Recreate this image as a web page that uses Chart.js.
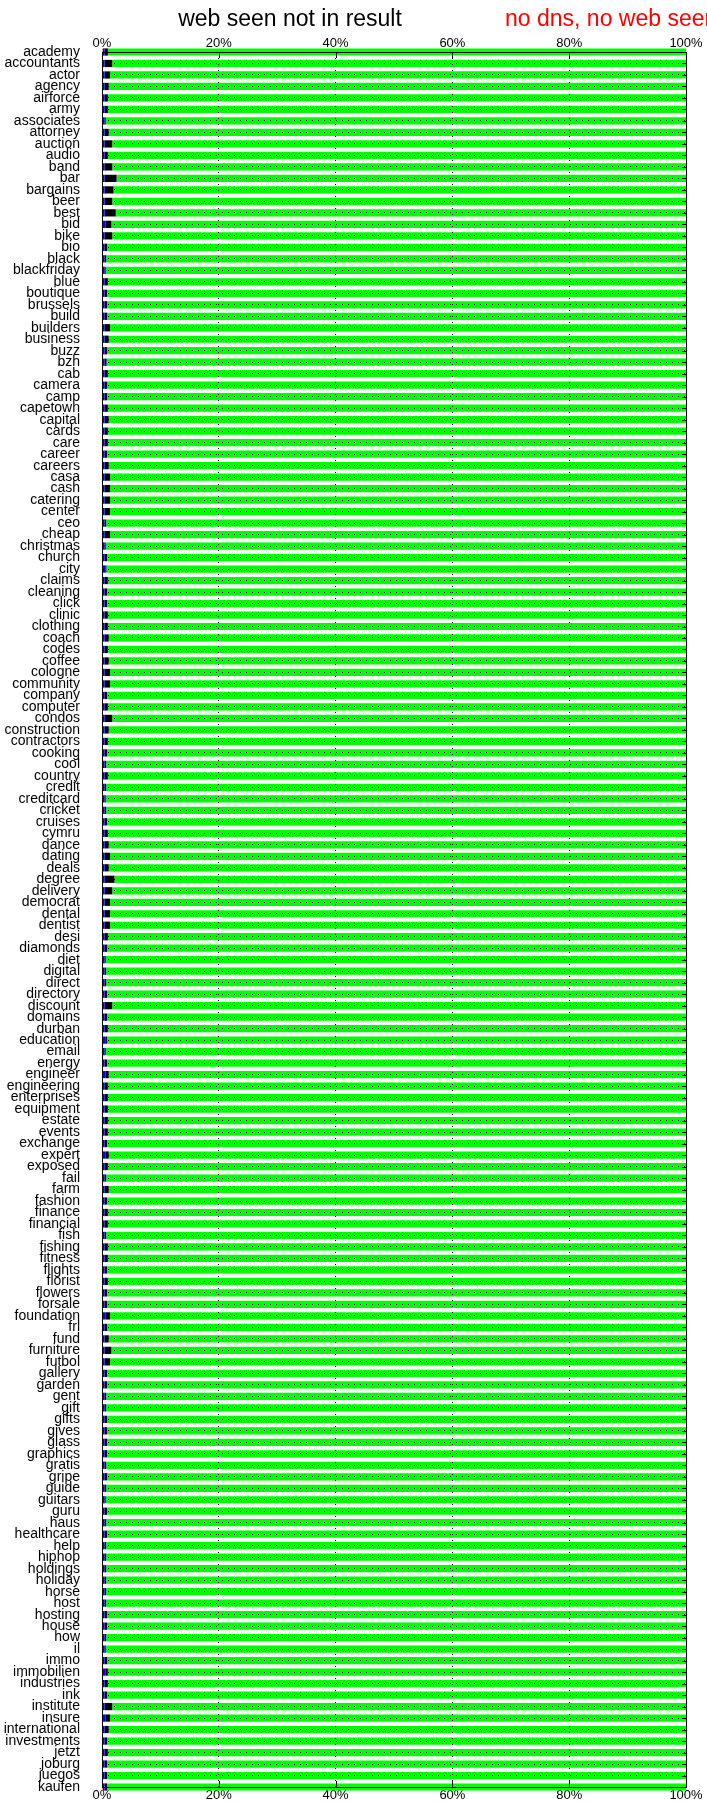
<!DOCTYPE html>
<html>
<head>
<meta charset="utf-8">
<script src="https://cdn.jsdelivr.net/npm/chart.js@4"></script>
<style>
  body { margin: 0; background: #fff; }
</style>
</head>
<body>
<canvas id="myChart" width="707" height="1816"></canvas>
<script>
var categories = [
  'academy','accountants','actor','agency','airforce','army','associates','attorney','auction','audio',
  'band','bar','bargains','beer','best','bid','bike','bio','black','blackfriday',
  'blue','boutique','brussels','build','builders','business','buzz','bzh','cab','camera',
  'camp','capetown','capital','cards','care','career','careers','casa','cash','catering',
  'center','ceo','cheap','christmas','church','city','claims','cleaning','click','clinic',
  'clothing','coach','codes','coffee','cologne','community','company','computer','condos','construction',
  'contractors','cooking','cool','country','credit','creditcard','cricket','cruises','cymru','dance',
  'dating','deals','degree','delivery','democrat','dental','dentist','desi','diamonds','diet',
  'digital','direct','directory','discount','domains','durban','education','email','energy','engineer',
  'engineering','enterprises','equipment','estate','events','exchange','expert','exposed','fail','farm',
  'fashion','finance','financial','fish','fishing','fitness','flights','florist','flowers','forsale',
  'foundation','frl','fund','furniture','futbol','gallery','garden','gent','gift','gifts',
  'gives','glass','graphics','gratis','gripe','guide','guitars','guru','haus','healthcare',
  'help','hiphop','holdings','holiday','horse','host','hosting','house','how','il',
  'immo','immobilien','industries','ink','institute','insure','international','investments','jetzt','joburg',
  'juegos','kaufen'
];

// % no dns, no web seen (red)
var noDnsNoWeb = [
  0.15,0.15,0.15,0.15,0.15,0.15,0.15,0.15,0.15,0.15,
  0.15,0.15,0.15,0.15,0.15,0.15,0.15,0.15,0.15,0.15,
  0.15,0.15,0.15,0.15,0.15,0.15,0.15,0.15,0.15,0.15,
  0.15,0.15,0.15,0.15,0.15,0.15,0.15,0.15,0.15,0.15,
  0.15,0.15,0.15,0.15,0.15,0.15,0.15,0.15,0.15,0.15,
  0.15,0.15,0.15,0.15,0.15,0.15,0.15,0.15,0.15,0.15,
  0.15,0.15,0.15,0.15,0.15,0.15,0.15,0.15,0.15,0.15,
  0.15,0.15,0.15,0.15,0.15,0.15,0.15,0.15,0.15,0.15,
  0.15,0.15,0.15,0.15,0.15,0.15,0.15,0.15,0.15,0.15,
  0.15,0.15,0.15,0.15,0.15,0.15,0.15,0.15,0.15,0.15,
  0.15,0.15,0.15,0.15,0.15,0.15,0.15,0.15,0.15,0.15,
  0.15,0.15,0.15,0.15,0.15,0.15,0.15,0.15,0.15,0.15,
  0.15,0.15,0.15,0.15,0.15,0.15,0.15,0.15,0.15,0.15,
  0.15,0.15,0.15,0.15,0.15,0.15,0.15,0.15,0.15,0.15,
  0.15,0.15,0.15,0.15,0.15,0.15,0.15,0.15,0.15,0.15,
  0.15,0.15
];

// blue part
var bluePart = [
  0.3,0.3,0.3,0.3,0.3,0.3,0.3,0.3,0.3,0.3,
  0.3,0.3,0.3,0.3,0.3,0.5,0.3,0.3,0.3,0.3,
  0.3,0.3,0.3,0.3,0.3,0.3,0.3,0.3,0.3,0.3,
  0.3,0.3,0.3,0.3,0.3,0.3,0.3,0.3,0.3,0.3,
  0.3,0.3,0.3,0.3,0.3,0.5,0.3,0.3,0.3,0.3,
  0.3,0.3,0.3,0.3,0.3,0.3,0.3,0.3,0.3,0.3,
  0.3,0.3,0.3,0.3,0.3,0.3,0.3,0.3,0.3,0.3,
  0.3,0.3,0.3,0.3,0.3,0.3,0.3,0.3,0.3,0.3,
  0.3,0.3,0.3,0.3,0.3,0.3,0.5,0.3,0.3,0.5,
  0.3,0.3,0.3,0.3,0.3,0.3,0.5,0.3,0.3,0.3,
  0.3,0.3,0.3,0.3,0.3,0.3,0.3,0.3,0.3,0.3,
  0.5,0.3,0.3,0.3,0.3,0.3,0.3,0.3,0.3,0.3,
  0.3,0.3,0.3,0.3,0.3,0.3,0.3,0.3,0.3,0.3,
  0.3,0.3,0.3,0.3,0.3,0.3,0.3,0.3,0.3,0.3,
  0.3,0.5,0.3,0.3,0.3,0.5,0.3,0.3,0.3,0.3,
  0.3,0.3
];

// % web seen not in result (black)
var webSeenNotInResult = [
  0.55,1.30,0.93,0.70,0.55,0.55,0.18,0.70,1.30,0.55,
  1.30,2.05,1.53,1.30,1.90,0.95,1.30,0.40,0.25,0.18,
  0.55,0.40,0.40,0.40,0.93,0.70,0.40,0.33,0.55,0.40,
  0.40,0.55,0.70,0.55,0.55,0.40,0.70,0.93,0.93,0.93,
  0.93,0.25,0.93,0.18,0.40,0.10,0.55,0.40,0.40,0.55,
  0.55,0.70,0.55,0.70,0.93,0.93,0.40,0.55,1.30,0.70,
  0.55,0.40,0.25,0.55,0.25,0.18,0.25,0.40,0.55,0.70,
  0.93,0.70,1.68,1.30,0.93,0.93,0.93,0.55,0.40,0.18,
  0.25,0.25,0.40,1.30,0.40,0.55,0.20,0.18,0.40,0.50,
  0.55,0.55,0.55,0.55,0.55,0.40,0.50,0.55,0.25,0.70,
  0.40,0.55,0.55,0.25,0.55,0.55,0.40,0.55,0.40,0.40,
  0.73,0.40,0.70,1.15,0.93,0.40,0.40,0.25,0.25,0.40,
  0.40,0.40,0.40,0.25,0.40,0.25,0.18,0.40,0.25,0.40,
  0.25,0.25,0.25,0.25,0.25,0.25,0.40,0.40,0.25,0.18,
  0.40,0.35,0.55,0.40,1.30,0.73,0.70,0.40,0.55,0.40,
  0.40,0.40
];

// green remainder
var greenPart = [
  99.00,98.25,98.62,98.85,99.00,99.00,99.37,98.85,98.25,99.00,
  98.25,97.50,98.02,98.25,97.65,98.40,98.25,99.15,99.30,99.37,
  99.00,99.15,99.15,99.15,98.62,98.85,99.15,99.22,99.00,99.15,
  99.15,99.00,98.85,99.00,99.00,99.15,98.85,98.62,98.62,98.62,
  98.62,99.30,98.62,99.37,99.15,99.25,99.00,99.15,99.15,99.00,
  99.00,98.85,99.00,98.85,98.62,98.62,99.15,99.00,98.25,98.85,
  99.00,99.15,99.30,99.00,99.30,99.37,99.30,99.15,99.00,98.85,
  98.62,98.85,97.87,98.25,98.62,98.62,98.62,99.00,99.15,99.37,
  99.30,99.30,99.15,98.25,99.15,99.00,99.15,99.37,99.15,98.85,
  99.00,99.00,99.00,99.00,99.00,99.15,98.85,99.00,99.30,98.85,
  99.15,99.00,99.00,99.30,99.00,99.00,99.15,99.00,99.15,99.15,
  98.62,99.15,98.85,98.40,98.62,99.15,99.15,99.30,99.30,99.15,
  99.15,99.15,99.15,99.30,99.15,99.30,99.37,99.15,99.30,99.15,
  99.30,99.30,99.30,99.30,99.30,99.30,99.15,99.15,99.30,99.37,
  99.15,99.00,99.00,99.15,98.25,98.62,98.85,99.15,99.00,99.15,
  99.15,99.15
];

var xTicks = [0, 20, 40, 60, 80, 100];

var fontFamily = '"Liberation Sans", Arial, Helvetica, sans-serif';

// key texts and frame, drawn like the gnuplot original
var frameAndKey = {
  id: 'frameAndKey',
  afterDraw: function(chart) {
    var c = chart.ctx;
    var a = chart.chartArea;
    var xs = chart.scales.x;
    var ys = chart.scales.y;
    c.save();
    c.strokeStyle = '#000';
    c.lineWidth = 1;
    c.setLineDash([]);
    c.strokeRect(Math.round(a.left) + 0.5, Math.round(a.top) + 0.5,
      Math.round(a.right - a.left), Math.round(a.bottom - a.top));
    c.beginPath();
    xTicks.forEach(function(v) {
      var px = Math.round(xs.getPixelForValue(v)) + 0.5;
      c.moveTo(px, a.top); c.lineTo(px, a.top + 6);
      c.moveTo(px, a.bottom); c.lineTo(px, a.bottom - 6);
    });
    categories.forEach(function(cat, i) {
      var py = Math.round(ys.getPixelForValue(i)) + 0.5;
      c.moveTo(a.right, py); c.lineTo(a.right - 4, py);
    });
    c.stroke();

    c.font = '23px ' + fontFamily;
    c.textBaseline = 'alphabetic';
    c.textAlign = 'center';
    c.fillStyle = '#000';
    c.fillText('web seen not in result', 290, 26);
    c.textAlign = 'left';
    c.fillStyle = '#ff0000';
    c.fillText('no dns, no web seen', 505, 26);
    c.restore();
  }
};

var ctx = document.getElementById('myChart');

var myBarChart = new Chart(ctx, {
  type: 'bar',
  data: {
    labels: categories,
    datasets: [
      { label: 'no dns, no web seen', data: noDnsNoWeb, backgroundColor: '#ff0000' },
      { label: 'blue', data: bluePart, backgroundColor: '#0000ff' },
      { label: 'web seen not in result', data: webSeenNotInResult, backgroundColor: '#000000' },
      { label: 'green', data: greenPart, backgroundColor: '#00ff00' }
    ]
  },
  options: {
    indexAxis: 'y',
    responsive: false,
    animation: false,
    datasets: {
      bar: { categoryPercentage: 1, barPercentage: 0.63, borderWidth: 0, clip: false }
    },
    layout: { padding: { top: 30, right: 21, left: 0, bottom: 0 } },
    plugins: {
      legend: { display: false },
      tooltip: { enabled: false }
    },
    scales: {
      x: {
        type: 'linear',
        position: 'bottom',
        stacked: true,
        min: 0,
        max: 100,
        afterFit: function(s) { s.height = 18; },
        afterBuildTicks: function(s) { s.ticks = xTicks.map(function(v) { return { value: v }; }); },
        ticks: {
          color: '#000',
          padding: 1,
          maxRotation: 0,
          font: { size: 13, family: fontFamily },
          callback: function(value) { return value + '%'; }
        },
        grid: { color: '#000', lineWidth: 1, drawTicks: false, z: 1 },
        border: { display: false, dash: [1, 5] }
      },
      x2: {
        type: 'linear',
        axis: 'x',
        position: 'top',
        min: 0,
        max: 100,
        afterFit: function(s) { s.height = 22; },
        afterBuildTicks: function(s) { s.ticks = xTicks.map(function(v) { return { value: v }; }); },
        ticks: {
          color: '#000',
          padding: 1,
          maxRotation: 0,
          font: { size: 13, family: fontFamily },
          callback: function(value) { return value + '%'; }
        },
        grid: { display: false, drawTicks: false },
        border: { display: false }
      },
      y: {
        stacked: true,
        offset: false,
        afterFit: function(s) { s.width = 102; },
        ticks: {
          autoSkip: false,
          color: '#000',
          padding: 22,
          font: { size: 14, family: fontFamily, lineHeight: 1 }
        },
        grid: { offset: false, color: '#000', lineWidth: 1, drawTicks: false, z: 1 },
        border: { display: false, dash: [1, 5] }
      }
    }
  },
  plugins: [frameAndKey]
});
</script>
</body>
</html>
